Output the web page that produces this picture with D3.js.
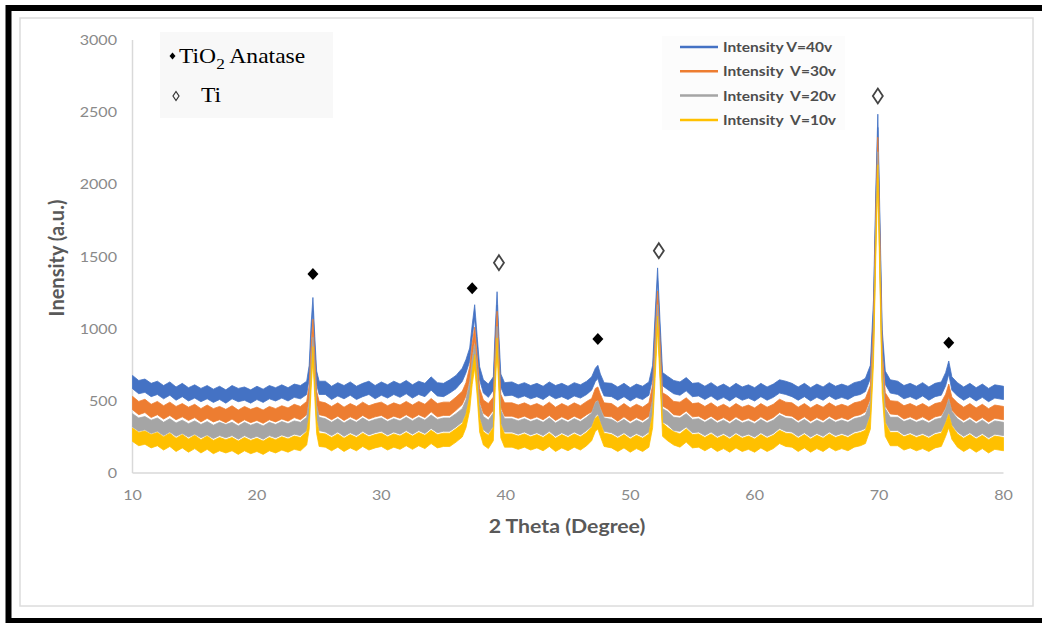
<!DOCTYPE html>
<html>
<head>
<meta charset="utf-8">
<script src="https://cdn.jsdelivr.net/npm/d3@7"></script>
<style>
  body { margin: 0; background: #fff; }
  text { white-space: pre; }
</style>
</head>
<body>
<div id="xrd-chart"></div>
<script>
// 2 theta positions (shared by all four scans), denser around the peaks
const theta = [
  10, 10.5, 11, 11.5, 12, 12.5, 13, 13.5, 14, 14.5, 15, 15.5, 16, 16.5, 17, 17.5, 18, 18.5, 19, 19.5, 20, 20.5, 21, 21.5, 22, 22.5, 23, 23.5,
  24.0, 24.2, 24.35, 24.5, 24.65, 24.8, 25.0,
  25.5, 26, 26.5, 27, 27.5, 28, 28.5, 29, 29.5, 30, 30.5, 31, 31.5, 32, 32.5, 33, 33.5, 34, 34.5, 35, 35.5, 36, 36.5,
  36.8, 37.1, 37.3, 37.5, 37.7, 37.9, 38.2, 38.6, 39.0, 39.15, 39.3, 39.45, 39.6, 39.9,
  40.5, 41, 41.5, 42, 42.5, 43, 43.5, 44, 44.5, 45, 45.5, 46, 46.5,
  46.9, 47.2, 47.4, 47.6, 47.9,
  48.5, 49, 49.5, 50, 50.5, 51, 51.5,
  51.8, 52.0, 52.2, 52.4, 52.6,
  53, 53.5, 54, 54.5, 55, 55.5, 56, 56.5, 57, 57.5, 58, 58.5, 59, 59.5, 60, 60.5, 61, 61.5, 62, 62.5, 63, 63.5, 64, 64.5, 65, 65.5, 66, 66.5, 67, 67.5, 68, 68.5,
  68.9, 69.3, 69.55, 69.75, 69.9, 70.05, 70.25, 70.5, 70.9,
  71.5, 72, 72.5, 73, 73.5, 74, 74.5, 75.0,
  75.35, 75.6, 75.85,
  76.3, 76.8, 77.3, 77.8, 78.3, 78.8, 79.3, 80
];

const v40 = [
  630, 595, 605, 575, 590, 560, 585, 550, 575, 545, 565, 540, 560, 535, 555, 530, 560, 540, 550, 530, 555, 535, 560, 545, 565, 545, 570, 560,
  590, 700, 980, 1170, 900, 660, 590,
  590, 555, 580, 560, 585, 555, 575, 590, 560, 585, 565, 590, 570, 595, 565, 590, 575, 620, 580, 575, 600, 630, 680,
  740, 820, 980, 1120, 900, 690, 600, 570, 620, 950, 1210, 900, 640, 580,
  585, 565, 580, 560, 575, 555, 585, 560, 575, 555, 580, 565, 590,
  620, 680, 700, 640, 580,
  575, 550, 575, 545, 570, 555, 585,
  700, 1050, 1375, 1000, 650,
  625, 595, 585, 615, 575, 580, 555, 580, 550, 570, 545, 575, 550, 565, 545, 575, 550, 570, 600, 590, 575, 550, 575, 545, 570, 550, 580, 555, 570, 555, 580, 590,
  610, 700, 1150, 1950, 2440, 1800, 950, 660, 600,
  590, 560, 575, 555, 580, 550, 575, 585,
  650, 730, 620,
  580, 550, 575, 545, 570, 540, 565, 555
];

const v30 = [
  485, 450, 465, 430, 450, 420, 445, 415, 435, 410, 430, 400, 425, 400, 415, 395, 420, 390, 415, 395, 410, 390, 415, 400, 420, 405, 430, 415,
  450, 560, 820, 1020, 760, 520, 450,
  440, 415, 440, 410, 435, 415, 445, 420, 435, 445, 420, 440, 425, 450, 425, 450, 430, 470, 435, 445, 445, 480, 520,
  580, 690, 850, 965, 760, 540, 460, 435, 480, 820, 1075, 780, 500, 440,
  440, 425, 440, 420, 435, 415, 445, 410, 435, 415, 440, 420, 450,
  470, 540, 550, 500, 440,
  435, 405, 435, 405, 430, 410, 440,
  560, 900, 1215, 860, 510,
  490, 450, 445, 475, 435, 440, 415, 440, 410, 430, 405, 435, 410, 425, 405, 435, 410, 430, 465, 445, 440, 410, 435, 405, 430, 410, 440, 415, 430, 415, 440, 450,
  470, 560, 1000, 1800, 2280, 1650, 800, 510, 455,
  450, 420, 435, 415, 435, 410, 435, 445,
  500, 570, 480,
  440, 410, 435, 405, 430, 400, 425, 415
];

const v20 = [
  365, 335, 345, 320, 335, 305, 330, 300, 320, 295, 315, 290, 310, 285, 305, 290, 305, 280, 305, 285, 300, 280, 305, 290, 310, 295, 315, 305,
  340, 450, 720, 895, 660, 420, 340,
  330, 305, 330, 300, 325, 305, 335, 310, 325, 335, 310, 330, 315, 340, 315, 340, 320, 355, 325, 335, 335, 365, 400,
  460, 580, 740, 845, 660, 430, 345, 320, 370, 720, 970, 690, 390, 330,
  330, 315, 330, 310, 325, 305, 335, 300, 325, 305, 330, 310, 340,
  370, 440, 455, 400, 335,
  325, 300, 325, 295, 320, 300, 330,
  460, 800, 1120, 760, 400,
  380, 340, 335, 365, 325, 330, 305, 330, 300, 320, 295, 325, 300, 315, 295, 325, 300, 320, 355, 335, 330, 300, 325, 295, 320, 300, 330, 305, 320, 305, 330, 340,
  355, 450, 900, 1700, 2180, 1550, 700, 400, 340,
  340, 310, 325, 305, 320, 300, 325, 335,
  400, 465, 380,
  330, 300, 325, 295, 320, 290, 315, 305
];

const v10 = [
  265, 235, 245, 220, 235, 205, 230, 195, 220, 190, 215, 185, 210, 180, 200, 185, 200, 175, 200, 180, 195, 175, 200, 185, 205, 190, 210, 200,
  240, 350, 620, 830, 570, 320, 230,
  225, 200, 225, 195, 220, 200, 230, 205, 220, 230, 205, 225, 210, 235, 210, 235, 215, 250, 220, 230, 230, 260, 295,
  360, 480, 660, 775, 580, 330, 240, 215, 270, 640, 890, 610, 290, 225,
  225, 210, 225, 205, 220, 200, 230, 195, 220, 200, 225, 205, 235,
  270, 335, 350, 300, 230,
  220, 195, 220, 190, 215, 195, 225,
  360, 700, 1040, 680, 300,
  270, 240, 225, 260, 220, 225, 200, 225, 195, 215, 190, 220, 195, 210, 190, 220, 195, 215, 250, 230, 225, 195, 220, 190, 215, 195, 225, 200, 215, 200, 225, 235,
  250, 350, 800, 1600, 2090, 1450, 600, 300, 235,
  235, 205, 220, 200, 215, 195, 220, 230,
  300, 360, 280,
  225, 195, 220, 190, 215, 185, 210, 200
];

// counts of scatter around each trace (the noise band seen in the scans)
const noiseSpread = 46;

const seriesNames = ["Intensity V=40v", "Intensity  V=30v", "Intensity  V=20v", "Intensity  V=10v"];
const seriesColors = ["#4472c4", "#ed7d31", "#a5a5a5", "#ffc000"];
const seriesValues = [v40, v30, v20, v10];

const xTicks = [10, 20, 30, 40, 50, 60, 70, 80];
const yTicks = [0, 500, 1000, 1500, 2000, 2500, 3000];

// phase markers [2theta, intensity]
const anataseMarks = [[24.5, 1379], [37.3, 1280], [47.4, 928], [75.6, 903]];
const tiMarks = [[39.45, 1457], [52.3, 1540], [69.9, 2612]];

seriesValues.forEach(function(s, i) {
  if (s.length !== theta.length) throw new Error("series " + i + " has " + s.length + " points, theta has " + theta.length);
});

const width = 1042, height = 623;
const stretch = "scale(1.15,1)";

const svg = d3.select("#xrd-chart")
  .append("svg")
  .attr("width", width)
  .attr("height", height)
  .style("display", "block");

// frames
svg.append("rect")
  .attr("x", 20).attr("y", 18).attr("width", 1013).attr("height", 588)
  .attr("fill", "#fff").attr("stroke", "#dcdcdc").attr("stroke-width", 1.5);
svg.append("path")
  .attr("d", "M8.5,624 V8 H1042 M8.5,621 H1042")
  .attr("fill", "none").attr("stroke", "#000").attr("stroke-width", 6);

const x = d3.scaleLinear().domain([10, 80]).range([132.5, 1003.5]);
const y = d3.scaleLinear().domain([0, 3000]).range([473, 40]);

// faint text box backgrounds pasted over the plot
svg.append("rect").attr("x", 160).attr("y", 32).attr("width", 173).attr("height", 86).attr("fill", "#f8f8f8");
svg.append("rect").attr("x", 662).attr("y", 36).attr("width", 183).attr("height", 94).attr("fill", "#fcfcfc");

// axes lines
svg.append("line")
  .attr("x1", x(10)).attr("x2", x(10)).attr("y1", y(3000)).attr("y2", y(0))
  .attr("stroke", "#d9d9d9").attr("stroke-width", 1.5);
svg.append("line")
  .attr("x1", x(10)).attr("x2", x(80)).attr("y1", y(0)).attr("y2", y(0))
  .attr("stroke", "#d9d9d9").attr("stroke-width", 1.5);

// tick labels
svg.selectAll(".ytick")
  .data(yTicks)
  .enter()
  .append("text")
    .attr("class", "ytick")
    .attr("transform", function(d) { return "translate(117," + (y(d) + 5) + ") " + stretch; })
    .attr("text-anchor", "end")
    .attr("font-family", "Lato, sans-serif")
    .attr("font-size", 14)
    .attr("fill", "#8a8a8a")
    .text(function(d) { return d; });

svg.selectAll(".xtick")
  .data(xTicks)
  .enter()
  .append("text")
    .attr("class", "xtick")
    .attr("transform", function(d) { return "translate(" + x(d) + ",500) " + stretch; })
    .attr("text-anchor", "middle")
    .attr("font-family", "Lato, sans-serif")
    .attr("font-size", 14)
    .attr("fill", "#8a8a8a")
    .text(function(d) { return d; });

// axis titles
svg.append("text")
  .attr("transform", "translate(64,258) rotate(-90)")
  .attr("text-anchor", "middle")
  .attr("font-family", "Lato, sans-serif")
  .attr("font-weight", "bold")
  .attr("font-size", 20)
  .attr("fill", "#595959")
  .text("Inensity (a.u.)");

svg.append("text")
  .attr("transform", "translate(567,533) " + stretch)
  .attr("text-anchor", "middle")
  .attr("font-family", "Lato, sans-serif")
  .attr("font-weight", "bold")
  .attr("font-size", 18.5)
  .attr("fill", "#595959")
  .text("2 Theta (Degree)");

// scans, drawn as noise bands
const band = d3.area()
  .x(function(d) { return x(d[0]); })
  .y0(function(d) { return y(d[1] - noiseSpread); })
  .y1(function(d) { return y(d[1] + noiseSpread); });

const scans = seriesValues.map(function(vals, i) {
  return { name: seriesNames[i], color: seriesColors[i], points: theta.map(function(t, j) { return [t, vals[j]]; }) };
});

svg.selectAll(".scan")
  .data(scans)
  .enter()
  .append("path")
    .attr("class", "scan")
    .attr("fill", function(d) { return d.color; })
    .attr("stroke", function(d) { return d.color; })
    .attr("stroke-width", 0.8)
    .attr("d", function(d) { return band(d.points); });

// phase markers
const filledDiamond = "M0,-6 L5.5,0 L0,6 L-5.5,0 Z";
const openDiamond = "M0,-7.5 L5,0 L0,7.5 L-5,0 Z";

svg.selectAll(".anatase")
  .data(anataseMarks)
  .enter()
  .append("path")
    .attr("class", "anatase")
    .attr("transform", function(d) { return "translate(" + x(d[0]) + "," + y(d[1]) + ")"; })
    .attr("d", filledDiamond)
    .attr("fill", "#000");

svg.selectAll(".ti")
  .data(tiMarks)
  .enter()
  .append("path")
    .attr("class", "ti")
    .attr("transform", function(d) { return "translate(" + x(d[0]) + "," + y(d[1]) + ")"; })
    .attr("d", openDiamond)
    .attr("fill", "#fff")
    .attr("stroke", "#444")
    .attr("stroke-width", 1.8);

// phase legend (top left)
svg.append("path")
  .attr("transform", "translate(172.5,56)")
  .attr("d", "M0,-3.5 L3,0 L0,3.5 L-3,0 Z")
  .attr("fill", "#000");
const tio2 = svg.append("text")
  .attr("transform", "translate(179,63) " + stretch)
  .attr("font-family", "'Liberation Serif', 'Times New Roman', serif")
  .attr("font-size", 20.5)
  .attr("fill", "#000");
tio2.append("tspan").text("TiO");
tio2.append("tspan").attr("dy", 6).attr("font-size", 15).text("2");
tio2.append("tspan").attr("dy", -6).text(" Anatase");

svg.append("path")
  .attr("transform", "translate(176,96)")
  .attr("d", "M0,-4.5 L3,0 L0,4.5 L-3,0 Z")
  .attr("fill", "none")
  .attr("stroke", "#333")
  .attr("stroke-width", 1.2);
svg.append("text")
  .attr("transform", "translate(201,102) " + stretch)
  .attr("font-family", "'Liberation Serif', 'Times New Roman', serif")
  .attr("font-size", 20.5)
  .attr("fill", "#000")
  .text("Ti");

// series legend (top right)
const legend = svg.selectAll(".legend")
  .data(scans)
  .enter()
  .append("g")
    .attr("class", "legend")
    .attr("transform", function(d, i) { return "translate(680," + (47 + i * 24.3) + ")"; });

legend.append("line")
  .attr("x1", 0).attr("x2", 38)
  .attr("stroke", function(d) { return d.color; })
  .attr("stroke-width", 2.5);

legend.append("text")
  .attr("transform", "translate(43,5) " + stretch)
  .attr("font-family", "Lato, sans-serif")
  .attr("font-weight", "bold")
  .attr("font-size", 13.5)
  .attr("fill", "#4d4d4d")
  .text(function(d) { return d.name; });
</script>
</body>
</html>
